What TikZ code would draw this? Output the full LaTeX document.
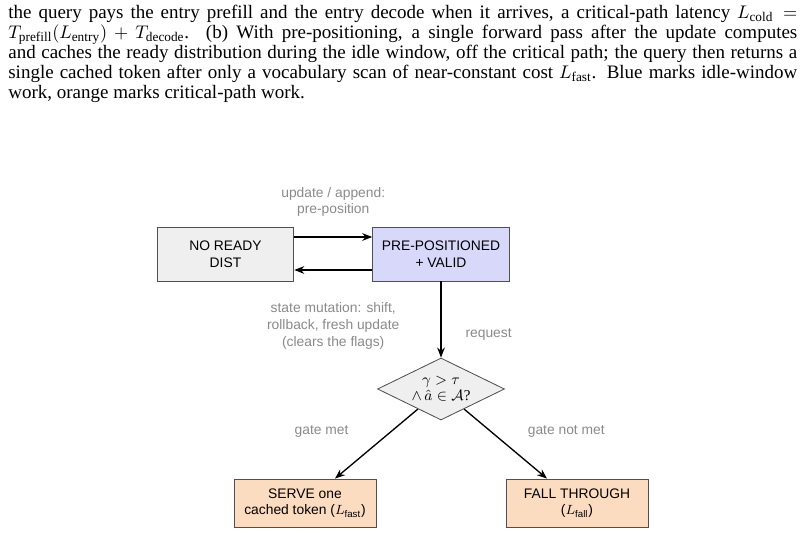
\documentclass[tikz,border=0pt]{standalone}
\usepackage{amsmath}
\usepackage{fontspec}
\setmainfont{Liberation Serif}
\setsansfont{Liberation Sans}
\usetikzlibrary{arrows.meta,shapes.geometric}

\definecolor{idlegray}{HTML}{EFEFEF}
\definecolor{preblue}{HTML}{D8D8FB}
\definecolor{critorange}{HTML}{FCDCC0}
\definecolor{lblgray}{HTML}{8A8A8A}
\definecolor{edgegray}{HTML}{505050}
\newcommand{\diagfont}{\sffamily\fontsize{8.3}{10}\selectfont}

\begin{document}
\begin{tikzpicture}[x=0.6pt, y=-0.6pt, >={Stealth[length=6pt,width=4.6pt]},
  state/.style={rectangle, draw=edgegray, line width=0.5pt, minimum width=82pt, minimum height=32.4pt, align=center, font=\diagfont},
  outcome/.style={state, fill=critorange, minimum width=85.2pt, minimum height=28.8pt},
  gate/.style={diamond, draw=edgegray, line width=0.5pt, fill=idlegray, aspect=2, inner sep=0pt, minimum width=76.2pt, minimum height=37.2pt, align=center, font=\fontsize{9}{9.8}\selectfont},
  lbl/.style={text=lblgray, align=center, font=\diagfont},
  conn/.style={line width=0.8pt, black}]
  \useasboundingbox (0,0) rectangle (806,535);

  % caption text
  \node[anchor=north west, inner sep=0pt, text width=473.4pt, align=justify, font=\fontsize{11.4}{12}\selectfont] (caption) at (8,5)
    {the query pays the entry prefill and the entry decode when it arrives, a critical-path latency $L_{\mathrm{cold}} =$\linebreak
     $T_{\mathrm{prefill}}(L_{\mathrm{entry}}) + T_{\mathrm{decode}}$. (b) With pre-positioning, a single forward pass after the update computes\linebreak
     and caches the ready distribution during the idle window, off the critical path; the query then returns a\linebreak
     single cached token after only a vocabulary scan of near-constant cost $L_{\mathrm{fast}}$. Blue marks idle-window\linebreak
     work, orange marks critical-path work.};

  % states
  \node[state, fill=idlegray] (nodist) at (225.5,254) {NO READY\\DIST};
  \node[state, fill=preblue] (prepos) at (441,254) {PRE-POSITIONED\\+ VALID};
  \node[gate] (gate) at (441,389) {$\gamma > \tau$\\$\wedge\,\hat{a} \in \mathcal{A}$?};
  \node[outcome] (serve) at (305,503) {SERVE one\\cached token ($L_{\textsf{fast}}$)};
  \node[outcome] (fall) at (577,503) {FALL THROUGH\\($L_{\textsf{fall}}$)};

  % transitions
  \draw[->, conn] ([yshift=10.2pt]nodist.east) -- node[lbl, above=8.4pt] (lblupd) {update / append:\\pre-position} ([yshift=10.2pt]prepos.west);
  \draw[->, conn] ([yshift=-9.6pt]prepos.west) -- node[lbl, below=16pt] (lblmut) {state mutation: shift,\\rollback, fresh update\\(clears the flags)} ([yshift=-9.6pt]nodist.east);
  \draw[->, conn] (prepos.south) -- node[lbl, right=11pt, pos=0.7] (lblreq) {request} (gate.north);
  \draw[->, conn] (gate.221) -- node[lbl, left=22pt, pos=0.32] (lblmet) {gate met} ([xshift=18pt]serve.north);
  \draw[->, conn] (gate.319) -- node[lbl, right=18.6pt, pos=0.32] (lblnot) {gate not met} ([xshift=-18pt]fall.north);
\end{tikzpicture}
\end{document}
